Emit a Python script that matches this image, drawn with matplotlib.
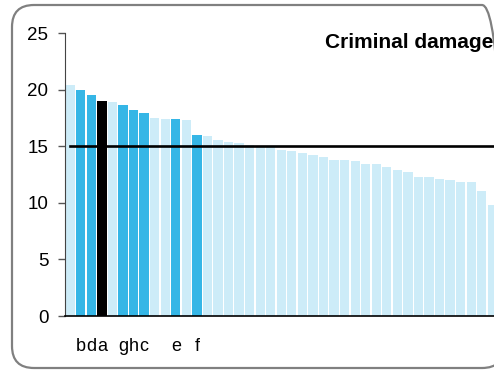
import numpy as np
import matplotlib
matplotlib.use('Agg')
import matplotlib.pyplot as plt
from matplotlib.patches import FancyBboxPatch

plt.rcParams['font.family'] = ['Liberation Sans', 'DejaVu Sans']

title = 'Criminal damage'
average = 15.0

values = [20.43, 20.0, 19.55, 19.04, 18.93, 18.66, 18.25, 17.95, 17.54, 17.45,
          17.45, 17.36, 16.0, 15.9, 15.57, 15.38, 15.28, 15.1, 15.05, 15.0,
          14.67, 14.58, 14.41, 14.23, 14.06, 13.8, 13.8, 13.71, 13.44, 13.44,
          13.18, 12.91, 12.74, 12.29, 12.29, 12.12, 12.03, 11.85, 11.85, 11.06,
          9.82]
# 0 = other, 1 = comparison group, 2 = selected area
group = [0, 1, 1, 2, 0, 1, 1, 1, 0, 0,
         1, 0, 1] + [0] * 28
labels = ['', 'b', 'd', 'a', '', 'g', 'h', 'c', '', '',
          'e', '', 'f'] + [''] * 28

colours = {0: '#cdecf8', 1: '#35b6e6', 2: '#000000'}

fig = plt.figure(figsize=(4.94, 3.70), dpi=100)
ax = fig.add_axes([0.1316, 0.1459, 0.8684, 0.764])

x = np.arange(len(values))
ax.bar(x, values, width=0.88, color=[colours[g] for g in group])
ax.plot([0, len(values) + 2], [average, average], color='black', lw=1.9, zorder=3)

ax.set_xlim(-0.5, 40.16)
ax.set_ylim(0, 25)
ax.set_yticks([0, 5, 10, 15, 20, 25])
ax.tick_params(axis='y', length=5, width=1, color='#555555', pad=7, labelsize=13.5)

idx = [i for i, l in enumerate(labels) if l]
ax.set_xticks(idx, [labels[i] for i in idx])
ax.tick_params(axis='x', length=0, pad=16, labelsize=13)

for s in ['top', 'right']:
    ax.spines[s].set_visible(False)
ax.spines['left'].set_color('#444444')
ax.spines['bottom'].set_color('black')
ax.spines['bottom'].set_linewidth(1.2)

fig.text(0.999, 0.884, title, ha='right', va='center', fontsize=15, fontweight='bold')

frame = FancyBboxPatch((12, 2), 492, 363, boxstyle='round,pad=0,rounding_size=22',
                       transform=None, facecolor='none', edgecolor='#808080', lw=1.6)
fig.patches.append(frame)

fig.savefig('out.png', dpi=100)
